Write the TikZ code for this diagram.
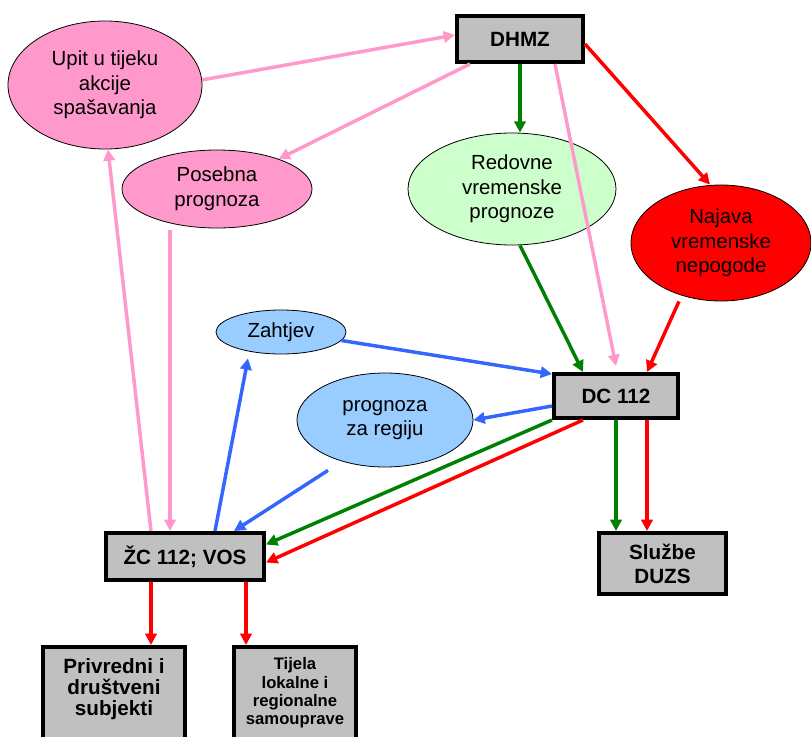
\documentclass[tikz,border=0pt]{standalone}
\usepackage{fontspec}
\setmainfont{Liberation Sans}
\usetikzlibrary{arrows.meta,calc,shapes.geometric}
\definecolor{pinkc}{HTML}{FF99CC}
\definecolor{greenc}{HTML}{008000}
\definecolor{redc}{HTML}{FF0000}
\definecolor{bluec}{HTML}{3366FF}
\definecolor{boxgray}{HTML}{C0C0C0}
\definecolor{lgreen}{HTML}{CCFFCC}
\definecolor{lblue}{HTML}{99CCFF}
\begin{document}
\begin{tikzpicture}[x=0.75pt,y=-0.75pt,
  box/.style={draw=black,line width=3pt,fill=boxgray,align=center,inner sep=2pt,font=\fontsize{15.5}{18}\selectfont\bfseries},
  oval/.style={ellipse,draw=black,line width=0.6pt,align=center,inner sep=0pt,font=\fontsize{15.3}{18.5}\selectfont},
  conn/.style={line width=2.6pt,-{Triangle[length=8.5pt,width=8.5pt]}},
]
\useasboundingbox (0,0) rectangle (811,736);

% boxes
\node[box,minimum width=94.5pt,minimum height=34.5pt] (dhmz) at (520,39) {DHMZ};
\node[box,minimum width=93pt,minimum height=33pt] (dc) at (616,396) {DC 112};
\node[box,minimum width=118.5pt,minimum height=35.25pt] (zc) at (185,556.5) {ŽC 112; VOS};
\node[box,minimum width=95.25pt,minimum height=45.75pt] (sluzbe) at (662.5,563.5) {Službe\\DUZS};
\node[box,anchor=north,minimum width=106.5pt,inner ysep=9pt,text depth=60pt,font=\fontsize{15.5}{15.75}\selectfont\bfseries] (priv) at (114,645) {Privredni i\\društveni\\subjekti};
\node[box,anchor=north,minimum width=91.5pt,inner ysep=8pt,text depth=60pt,font=\fontsize{12.5}{13.8}\selectfont\bfseries] (tijela) at (295,645) {Tijela\\lokalne i\\regionalne\\samouprave};

% ellipses
\node[oval,fill=pinkc,minimum width=145.5pt,minimum height=96pt] (upit) at (105,85) {Upit u tijeku\\akcije\\spašavanja};
\node[oval,fill=pinkc,minimum width=142.5pt,minimum height=58.5pt] (posebna) at (217,189) {Posebna\\prognoza};
\node[oval,fill=lgreen,minimum width=156pt,minimum height=84pt] (redovne) at (512,189) {Redovne\\vremenske\\prognoze};
\node[oval,fill=redc,minimum width=135pt,minimum height=87pt] (najava) at (721,243) {Najava\\vremenske\\nepogode};
\node[oval,fill=lblue,minimum width=97.5pt,minimum height=33pt] (zahtjev) at (281,332) {Zahtjev};
\node[oval,fill=lblue,minimum width=132pt,minimum height=70.5pt] (prog) at (385,420) {prognoza\\za regiju};

% connectors
\draw[conn,pinkc] (upit.3) -- ($(dhmz.west)+(0,-4)$);
\draw[conn,pinkc] ($(dhmz.south west)+(15,0)$) -- (posebna.26);
\draw[conn,greenc] (dhmz.south) -- (dhmz.south |- redovne.north);
\draw[conn,pinkc] ($(dhmz.south)+(35,0)$) -- ($(dc.north)+(0,-6)$);
\draw[conn,redc] ($(dhmz.east)+(0,5)$) -- ($(najava.north)+(-11,0)$);
\draw[conn,greenc] ($(redovne.south)+(8,0)$) -- ($(dc.north west)+(31,0)$);
\draw[conn,redc] ($(najava.south)+(-42,0)$) -- ($(dc.north east)+(-33,0)$);
\draw[conn,bluec] (zahtjev.-8) -- ($(dc.north west)+(0,2)$);
\draw[conn,bluec] ($(dc.west)+(0,10)$) -- (prog.east);
\draw[conn,bluec] ($(prog.south)+(-57,3)$) -- ($(zc.north east)+(-32,0)$);
\draw[conn,bluec] ($(zc.north west)+(111,0)$) -- ($(zahtjev.south)+(-33,4)$);
\draw[conn,pinkc] ($(zc.north west)+(47,0)$) -- ($(upit.south)+(3,0)$);
\draw[conn,pinkc] ($(posebna.south)+(-47,2)$) coordinate (p1) -- (p1 |- zc.north);
\draw[conn,greenc] (dc.south west) -- ($(zc.east)+(0,-12)$);
\draw[conn,redc] ($(dc.south west)+(31,0)$) -- ($(zc.east)+(0,6)$);
\draw[conn,greenc] (dc.south) -- (dc.south |- sluzbe.north);
\draw[conn,redc] ($(dc.south)+(31,0)$) coordinate (d2) -- (d2 |- sluzbe.north);
\draw[conn,redc] ($(zc.south west)+(47,0)$) coordinate (z1) -- (z1 |- priv.north);
\draw[conn,redc] ($(zc.south west)+(142,0)$) coordinate (z2) -- (z2 |- tijela.north);
\end{tikzpicture}
\end{document}
